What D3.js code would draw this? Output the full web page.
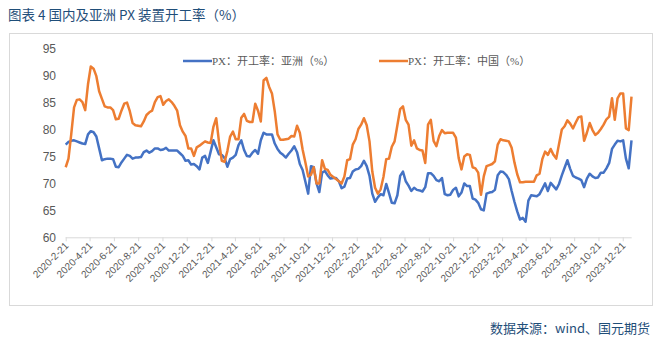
<!DOCTYPE html>
<html><head><meta charset="utf-8">
<script src="https://cdn.jsdelivr.net/npm/d3@7"></script>
<style>body{margin:0;background:#fff;}svg{display:block;}</style>
</head><body>
<svg id="c" width="662" height="339"></svg>
<script>
const titleText = "图表 4 国内及亚洲 PX 装置开工率（%）";
const sourceText = "数据来源：wind、国元期货";
const seriesNames = ["PX：开工率：亚洲（%）", "PX：开工率：中国（%）"];
const startDate = "2020-02-21"; // weekly observations
const asia = [
77.2,77.7,77.9,78.0,77.8,77.6,77.4,77.3,79.1,79.7,
79.5,78.7,76.5,74.3,74.5,74.6,74.6,74.5,73.1,73.0,
73.9,74.6,75.3,75.1,74.6,74.8,74.8,74.9,75.8,76.1,
75.7,76.0,76.5,76.5,76.2,76.3,76.6,76.1,76.1,76.1,
76.1,75.6,75.1,74.2,74.3,73.5,73.6,73.2,72.6,74.8,
75.1,73.8,75.9,78.0,76.7,75.4,75.3,74.7,73.1,74.5,
74.8,75.3,77.1,78.0,76.2,75.1,75.0,75.7,76.2,75.5,
78.0,79.4,79.1,79.1,79.1,77.4,76.4,75.7,75.3,74.8,
75.5,76.1,76.9,75.8,73.6,72.5,70.3,68.1,73.2,73.0,
70.0,68.4,72.0,72.3,71.5,70.9,71.0,71.0,70.4,69.1,
69.4,70.9,71.0,72.2,72.6,72.7,73.2,74.2,73.2,71.4,
68.1,66.6,67.4,68.0,67.8,69.9,68.2,66.4,66.3,67.8,
71.4,72.2,70.4,69.6,68.6,69.2,68.8,68.7,68.5,69.3,
71.9,71.9,71.4,70.6,70.4,71.0,68.0,67.8,67.9,68.8,
69.2,67.6,68.3,70.0,69.5,69.5,67.2,67.0,66.4,65.2,
65.0,68.1,68.3,68.4,68.8,71.5,72.2,72.1,71.6,70.8,
68.6,66.6,64.8,63.3,63.6,62.9,66.8,67.8,67.7,67.6,
68.0,69.0,70.0,68.6,70.1,69.5,68.9,69.9,71.5,72.9,
74.3,72.7,71.4,71.1,70.9,70.6,69.3,70.9,71.8,71.3,
71.0,71.1,72.0,72.0,72.8,73.8,76.4,77.2,77.9,77.8,
78.0,74.6,72.8,78.0];
const china = [
73.0,74.6,79.2,84.1,85.5,85.6,85.1,83.6,88.4,91.7,
91.3,89.9,87.1,85.7,84.3,84.1,84.1,83.6,81.9,82.0,
83.5,84.8,85.0,83.4,81.2,80.8,80.7,80.6,81.5,82.7,
83.2,83.5,85.1,86.0,86.2,84.6,85.3,85.6,85.1,84.4,
83.5,80.8,79.6,78.8,76.5,76.5,75.1,76.7,77.0,77.4,
77.8,77.6,77.5,80.5,82.1,77.7,74.2,74.0,76.0,78.7,
79.6,78.2,78.2,82.2,82.9,81.6,81.4,81.4,84.8,83.5,
81.5,89.1,89.6,87.9,86.7,83.4,79.1,78.1,78.1,78.2,
78.3,78.8,78.7,80.7,79.4,76.3,73.9,71.3,71.6,73.0,
70.0,70.0,74.3,72.7,72.5,71.6,71.2,70.8,70.4,70.0,
71.3,74.3,74.5,77.2,78.2,80.1,80.9,82.1,80.8,77.8,
72.2,69.2,68.1,68.9,71.2,74.5,74.6,76.8,77.8,80.8,
83.8,84.3,81.8,80.9,77.0,78.0,76.5,76.2,76.1,73.8,
80.9,81.8,77.9,76.9,78.8,79.9,79.3,79.4,79.4,79.4,
78.5,74.7,72.6,75.0,75.4,75.3,73.0,72.8,72.0,67.9,
71.3,73.2,73.4,73.6,74.1,77.2,78.2,78.0,77.9,77.8,
76.6,73.9,71.7,70.2,70.2,70.3,70.3,70.3,70.3,71.5,
71.8,74.5,75.9,75.3,76.4,75.3,74.6,77.3,80.0,80.6,
81.7,81.1,80.2,81.3,82.3,82.4,77.9,79.4,81.2,79.9,
79.0,79.4,80.1,80.9,81.9,82.4,85.8,81.8,85.8,86.7,
86.7,80.2,79.9,86.1];
const xTickLabels = ["2020-2-21","2020-4-21","2020-6-21","2020-8-21","2020-10-21","2020-12-21",
"2021-2-21","2021-4-21","2021-6-21","2021-8-21","2021-10-21","2021-12-21",
"2022-2-21","2022-4-21","2022-6-21","2022-8-21","2022-10-21","2022-12-21",
"2023-2-21","2023-4-21","2023-6-21","2023-8-21","2023-10-21","2023-12-21"];
const yTicks = [60,65,70,75,80,85,90,95];
const colors = ["#4472C4","#ED7D31"];

const parse = d3.timeParse("%Y-%m-%d");
const start = parse(startDate);
const dates = asia.map((_, i) => d3.timeDay.offset(start, 7 * i));
const tickDates = xTickLabels.map(s => { const [y,m,d] = s.split("-").map(Number); return new Date(y, m-1, d); });

const svg = d3.select("#c");
const x = d3.scaleTime().domain([start, dates[dates.length-1]]).range([65.7, 631.5]);
const y = d3.scaleLinear().domain([60, 95]).range([237.3, 48.7]);

// frame
svg.append("rect").attr("x", 9.5).attr("y", 33.5).attr("width", 643).attr("height", 272)
  .attr("fill", "none").attr("stroke", "#D9D9D9").attr("stroke-width", 1);

// title
svg.append("text").attr("x", 8).attr("y", 20).text(titleText)
  .attr("font-family", "'Noto Sans CJK SC', sans-serif").attr("font-size", 13.5)
  .attr("fill", "#1F4E79");

// source
svg.append("text").attr("x", 650).attr("y", 333).attr("text-anchor", "end").text(sourceText)
  .attr("font-family", "'Noto Sans CJK SC', sans-serif").attr("font-size", 13)
  .attr("fill", "#1F4E79");

// y axis labels (no line)
const yAxis = svg.append("g").attr("transform", "translate(56,0)")
  .call(d3.axisLeft(y).tickValues(yTicks).tickSize(0).tickPadding(0));
yAxis.select(".domain").remove();
yAxis.selectAll("text").attr("font-family", "'Liberation Sans', sans-serif")
  .attr("font-size", 12).attr("fill", "#595959");

// x axis
const xAxis = svg.append("g").attr("transform", `translate(0,${y(60)})`)
  .call(d3.axisBottom(x).tickValues(tickDates).tickSize(4).tickFormat((d, i) => xTickLabels[i]));
xAxis.select(".domain").attr("d", `M65.7,0.5H631.7`).attr("stroke", "#D9D9D9");
xAxis.selectAll(".tick line").attr("stroke", "#D9D9D9");
xAxis.selectAll(".tick text")
  .attr("font-family", "'Liberation Sans', sans-serif").attr("font-size", 10).attr("fill", "#595959")
  .attr("text-anchor", "end").attr("dy", null).attr("y", 0)
  .attr("transform", "translate(3,9) rotate(-45)");

// lines
const line = d3.line().x((d, i) => x(dates[i])).y(d => y(d));
[asia, china].forEach((s, k) => {
  svg.append("path").datum(s).attr("d", line).attr("fill", "none")
    .attr("stroke", colors[k]).attr("stroke-width", 2.5).attr("stroke-linejoin", "round");
});

// legend
const legX = [183, 379];
seriesNames.forEach((n, k) => {
  const g = svg.append("g").attr("transform", `translate(${legX[k]},61)`);
  g.append("line").attr("x1", 0).attr("x2", 29).attr("y1", 0).attr("y2", 0)
    .attr("stroke", colors[k]).attr("stroke-width", 2.5);
  g.append("text").attr("x", 29).attr("y", 4).text(n)
    .attr("font-family", "'Liberation Serif', 'Noto Sans CJK SC', serif").attr("font-size", 11)
    .attr("fill", "#595959");
});
</script>
</body></html>
